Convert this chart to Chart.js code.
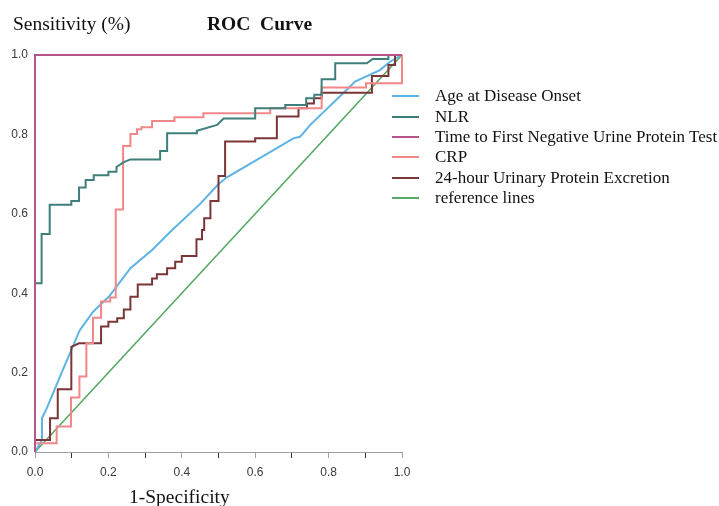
<!DOCTYPE html>
<html>
<head>
<meta charset="utf-8">
<script src="https://cdn.jsdelivr.net/npm/chart.js@4/dist/chart.umd.min.js"></script>
<style>
  html, body { margin: 0; padding: 0; background: #fff; }
  #wrap { position: relative; width: 719px; height: 506px; overflow: hidden; }
  canvas { position: absolute; left: 0; top: 0; }
  .txt { position: absolute; font-family: "Liberation Serif", "Times New Roman", serif; color: #111; white-space: pre; line-height: 1; }
  #legend { position: absolute; left: 392px; top: 86px; font-family: "Liberation Serif", "Times New Roman", serif; font-size: 17px; color: #111; }
  #legend .row { height: 20.4px; display: flex; align-items: center; white-space: nowrap; }
  #legend .sw { width: 27px; height: 2px; margin-right: 16px; flex: none; }
</style>
</head>
<body>
<div id="wrap">
  <canvas id="c" width="719" height="506"></canvas>
  <div class="txt" style="left:13px;top:14px;font-size:19.5px;">Sensitivity (%)</div>
  <div class="txt" style="left:207px;top:14px;font-size:19.5px;font-weight:bold;">ROC  Curve</div>
  <div class="txt" style="left:129px;top:487px;font-size:19.5px;">1-Specificity</div>
  <div id="legend"></div>
</div>
<script>
// ---- data ----
const seriesNames = ["Age at Disease Onset", "NLR", "Time to First Negative Urine Protein Test", "CRP", "24-hour Urinary Protein Excretion", "reference lines"];
const seriesColors = ["#5cb3e4", "#3f7f7b", "#b4548a", "#f2878a", "#7a3636", "#55a865"];
const xTickLabels = ["0.0", "0.2", "0.4", "0.6", "0.8", "1.0"];
const yTickLabels = ["0.0", "0.2", "0.4", "0.6", "0.8", "1.0"];

const ageX = [0, 0.019, 0.019, 0.032, 0.064, 0.122, 0.158, 0.201, 0.26, 0.319, 0.378, 0.45, 0.5, 0.523, 0.704, 0.722, 0.731, 0.75, 0.858, 0.872, 0.94, 0.967, 1];
const ageY = [0, 0.03, 0.085, 0.11, 0.181, 0.307, 0.353, 0.391, 0.463, 0.509, 0.563, 0.625, 0.675, 0.692, 0.79, 0.794, 0.803, 0.824, 0.92, 0.933, 0.962, 0.983, 1];

const nlrX = [0, 0, 0.018, 0.018, 0.04, 0.04, 0.099, 0.099, 0.12, 0.12, 0.138, 0.138, 0.16, 0.16, 0.2, 0.2, 0.222, 0.222, 0.242, 0.26, 0.341, 0.341, 0.36, 0.36, 0.441, 0.441, 0.496, 0.514, 0.6, 0.6, 0.682, 0.682, 0.739, 0.739, 0.761, 0.761, 0.781, 0.781, 0.818, 0.818, 0.904, 0.92, 0.963, 0.963, 1];
const nlrY = [0, 0.425, 0.425, 0.549, 0.549, 0.623, 0.623, 0.632, 0.632, 0.666, 0.666, 0.685, 0.685, 0.697, 0.697, 0.706, 0.706, 0.718, 0.73, 0.737, 0.737, 0.758, 0.758, 0.803, 0.803, 0.809, 0.824, 0.84, 0.84, 0.866, 0.866, 0.874, 0.874, 0.891, 0.891, 0.9, 0.9, 0.939, 0.939, 0.979, 0.979, 0.99, 0.99, 1, 1];

const timeX = [0, 0, 1];
const timeY = [0, 1, 1];

const crpX = [0, 0, 0.059, 0.059, 0.098, 0.098, 0.121, 0.121, 0.14, 0.14, 0.158, 0.158, 0.18, 0.18, 0.205, 0.205, 0.22, 0.22, 0.24, 0.24, 0.26, 0.26, 0.278, 0.278, 0.29, 0.29, 0.319, 0.319, 0.38, 0.38, 0.459, 0.459, 0.641, 0.641, 0.781, 0.781, 0.902, 0.902, 1, 1];
const crpY = [0, 0.022, 0.022, 0.064, 0.064, 0.137, 0.137, 0.19, 0.19, 0.274, 0.274, 0.338, 0.338, 0.379, 0.379, 0.389, 0.389, 0.611, 0.611, 0.771, 0.771, 0.801, 0.801, 0.813, 0.813, 0.818, 0.818, 0.834, 0.834, 0.843, 0.843, 0.853, 0.853, 0.866, 0.866, 0.918, 0.918, 0.929, 0.929, 1];

const uprX = [0, 0, 0.041, 0.041, 0.062, 0.062, 0.099, 0.099, 0.12, 0.18, 0.18, 0.2, 0.2, 0.224, 0.224, 0.242, 0.242, 0.26, 0.26, 0.28, 0.28, 0.319, 0.319, 0.332, 0.332, 0.36, 0.36, 0.382, 0.382, 0.4, 0.4, 0.44, 0.44, 0.455, 0.455, 0.461, 0.461, 0.478, 0.478, 0.5, 0.5, 0.518, 0.518, 0.6, 0.6, 0.659, 0.659, 0.718, 0.718, 0.741, 0.741, 0.76, 0.76, 0.781, 0.781, 0.918, 0.918, 0.963, 0.963, 0.981, 0.981, 1];
const uprY = [0, 0.03, 0.03, 0.085, 0.085, 0.158, 0.158, 0.265, 0.274, 0.274, 0.316, 0.316, 0.328, 0.328, 0.337, 0.337, 0.359, 0.359, 0.391, 0.391, 0.422, 0.422, 0.437, 0.437, 0.448, 0.448, 0.463, 0.463, 0.479, 0.479, 0.494, 0.494, 0.536, 0.536, 0.559, 0.559, 0.589, 0.589, 0.632, 0.632, 0.695, 0.695, 0.782, 0.782, 0.79, 0.79, 0.845, 0.845, 0.866, 0.866, 0.878, 0.878, 0.891, 0.891, 0.905, 0.905, 0.947, 0.947, 0.975, 0.975, 1, 1];

const refX = [0, 1];
const refY = [0, 1];

// ---- build ----
const pts = (xs, ys) => xs.map((x, i) => ({ x: x, y: ys[i] }));
const seriesData = [pts(ageX, ageY), pts(nlrX, nlrY), pts(timeX, timeY), pts(crpX, crpY), pts(uprX, uprY), pts(refX, refY)];
const drawOrder = [5, 0, 4, 3, 1, 2];

const datasets = drawOrder.map((k, i) => ({
  label: seriesNames[k],
  data: seriesData[k],
  borderColor: seriesColors[k],
  backgroundColor: seriesColors[k],
  borderWidth: k === 5 ? 1.6 : 2,
  showLine: true,
  fill: false,
  tension: 0,
  pointRadius: 0,
  clip: 6,
  order: drawOrder.length - i
}));

const legend = document.getElementById('legend');
seriesNames.forEach((n, i) => {
  const r = document.createElement('div'); r.className = 'row';
  const s = document.createElement('span'); s.className = 'sw'; s.style.background = seriesColors[i];
  const t = document.createElement('span'); t.textContent = n;
  r.appendChild(s); r.appendChild(t); legend.appendChild(r);
});

new Chart(document.getElementById('c'), {
  type: 'scatter',
  data: { datasets: datasets },
  options: {
    responsive: false,
    devicePixelRatio: 1,
    animation: false,
    layout: { padding: { left: 0, right: 317, top: 55, bottom: 24 } },
    plugins: { legend: { display: false }, tooltip: { enabled: false }, title: { display: false } },
    scales: {
      x: {
        type: 'linear', min: 0, max: 1, position: 'bottom',
        afterFit: s => { s.height = 30; },
        ticks: {
          stepSize: 0.1, padding: 7, color: '#3a3a3a', maxRotation: 0, autoSkip: false,
          font: { family: 'Liberation Sans, Arial, sans-serif', size: 12 },
          callback: v => { const k = Math.round(v * 10); return k % 2 === 0 ? xTickLabels[k / 2] : ''; }
        },
        grid: {
          drawOnChartArea: false, drawTicks: true, tickLength: 6,
          tickColor: c => (Math.round(c.tick.value * 10) % 2 === 0 ? '#a0a0a0' : '#333')
        },
        border: { display: true, color: '#a0a0a0', width: 1 }
      },
      y: {
        type: 'linear', min: 0, max: 1,
        afterFit: s => { s.width = 35; },
        ticks: {
          stepSize: 0.2, padding: 7, color: '#3a3a3a',
          font: { family: 'Liberation Sans, Arial, sans-serif', size: 12 },
          callback: v => yTickLabels[Math.round(v * 5)]
        },
        grid: { drawOnChartArea: false, drawTicks: false },
        border: { display: true, color: '#a0a0a0', width: 1 }
      }
    }
  }
});
</script>
</body>
</html>
